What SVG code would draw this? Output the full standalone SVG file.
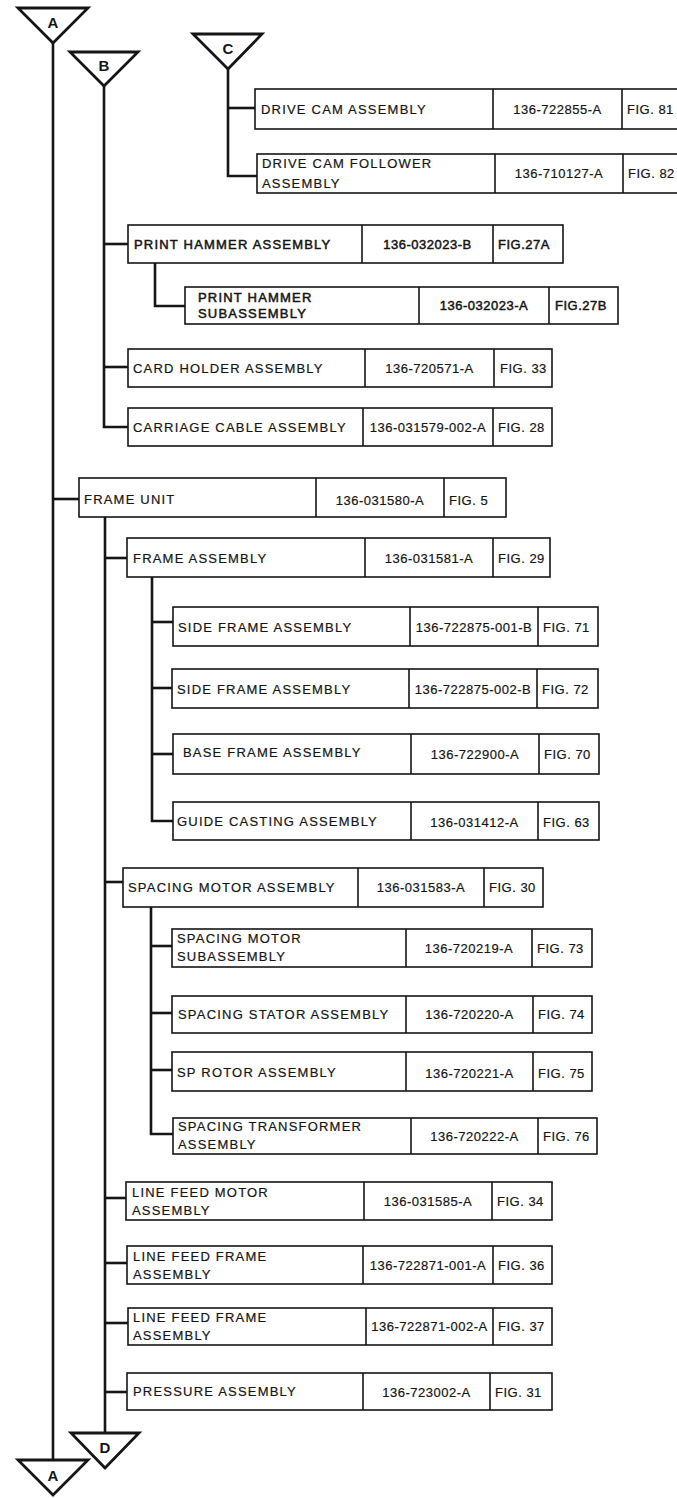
<svg xmlns="http://www.w3.org/2000/svg" width="677" height="1498" viewBox="0 0 677 1498">
<style>
.bg{fill:#fff}
.box{fill:#fff;stroke:#151515;stroke-width:1.6}
.dv{stroke:#151515;stroke-width:1.6}
.conn{fill:none;stroke:#151515;stroke-width:2.6;stroke-linejoin:miter}
.tri{fill:#fff;stroke:#151515;stroke-width:2.8;stroke-linejoin:miter}
text{font-family:"Liberation Sans",Arial,Helvetica,sans-serif;font-size:13px;fill:#151515;stroke:#151515;stroke-width:0.2px}
.lbl{letter-spacing:1.2px}
.bold{stroke-width:0.5px}
.num{text-anchor:middle;letter-spacing:0.5px}
.fig{letter-spacing:0.5px}
.tl{font-size:15px;font-weight:bold;text-anchor:middle;stroke-width:0}
</style>
<rect class="bg" x="0" y="0" width="677" height="1498"/>

<g id="connectors">
  <path class="conn" d="M53 43 V1460"/>
  <path class="conn" d="M53 499 H79"/>
  <path class="conn" d="M104 86 V427 H128"/>
  <path class="conn" d="M104 244 H128"/>
  <path class="conn" d="M104 367 H128"/>
  <path class="conn" d="M155 263 V306 H185"/>
  <path class="conn" d="M228 69 V176 H257"/>
  <path class="conn" d="M228 108 H255"/>
  <path class="conn" d="M105 517 V1433"/>
  <path class="conn" d="M105 558 H127"/>
  <path class="conn" d="M105 882 H123"/>
  <path class="conn" d="M105 1198 H126"/>
  <path class="conn" d="M105 1263 H127"/>
  <path class="conn" d="M105 1323 H128"/>
  <path class="conn" d="M105 1392 H127"/>
  <path class="conn" d="M152 577 V821 H173"/>
  <path class="conn" d="M152 622 H173"/>
  <path class="conn" d="M152 688 H172"/>
  <path class="conn" d="M152 754 H173"/>
  <path class="conn" d="M151 907 V1134 H173"/>
  <path class="conn" d="M151 946 H172"/>
  <path class="conn" d="M151 1013 H172"/>
  <path class="conn" d="M151 1070 H172"/>
</g>

<g id="offpage-A-top"><polygon class="tri" points="18,8 88,8 53,43"/><text class="tl" x="53" y="28">A</text></g>
<g id="offpage-B"><polygon class="tri" points="70,52 138,52 104,86"/><text class="tl" x="104" y="71">B</text></g>
<g id="offpage-C"><polygon class="tri" points="193,34 262,34 228,69"/><text class="tl" x="228" y="54">C</text></g>
<g id="offpage-D"><polygon class="tri" points="71,1433 139,1433 105,1468"/><text class="tl" x="105" y="1453">D</text></g>
<g id="offpage-A-bottom"><polygon class="tri" points="18,1460 88,1460 53,1495"/><text class="tl" x="53" y="1481">A</text></g>

<g id="drive-cam">
  <rect class="box" x="255" y="89" width="427" height="40"/>
  <line class="dv" x1="493" y1="89" x2="493" y2="129"/><line class="dv" x1="622" y1="89" x2="622" y2="129"/>
  <text class="lbl" x="261" y="114">DRIVE CAM ASSEMBLY</text>
  <text class="num" x="557.5" y="114">136-722855-A</text>
  <text class="fig" x="627" y="114">FIG. 81</text>
</g>
<g id="drive-cam-follower">
  <rect class="box" x="257" y="154" width="425" height="39"/>
  <line class="dv" x1="495" y1="154" x2="495" y2="193"/><line class="dv" x1="623" y1="154" x2="623" y2="193"/>
  <text class="lbl" x="262" y="168">DRIVE CAM FOLLOWER</text>
  <text class="lbl" x="262" y="188">ASSEMBLY</text>
  <text class="num" x="559" y="178">136-710127-A</text>
  <text class="fig" x="628" y="178">FIG. 82</text>
</g>

<g id="print-hammer">
  <rect class="box" x="128" y="225" width="435" height="38"/>
  <line class="dv" x1="362" y1="225" x2="362" y2="263"/><line class="dv" x1="493" y1="225" x2="493" y2="263"/>
  <text class="lbl bold" x="134" y="249">PRINT HAMMER ASSEMBLY</text>
  <text class="num bold" x="427.5" y="249">136-032023-B</text>
  <text class="fig bold" x="498" y="249">FIG.27A</text>
</g>
<g id="print-hammer-sub">
  <rect class="box" x="185" y="287" width="433" height="37"/>
  <line class="dv" x1="419" y1="287" x2="419" y2="324"/><line class="dv" x1="549" y1="287" x2="549" y2="324"/>
  <text class="lbl bold" x="198" y="302">PRINT HAMMER</text>
  <text class="lbl bold" x="198" y="318">SUBASSEMBLY</text>
  <text class="num bold" x="484" y="310">136-032023-A</text>
  <text class="fig bold" x="555" y="310">FIG.27B</text>
</g>
<g id="card-holder">
  <rect class="box" x="128" y="349" width="424" height="38"/>
  <line class="dv" x1="365" y1="349" x2="365" y2="387"/><line class="dv" x1="494" y1="349" x2="494" y2="387"/>
  <text class="lbl" x="133" y="373">CARD HOLDER ASSEMBLY</text>
  <text class="num" x="429.5" y="373">136-720571-A</text>
  <text class="fig" x="500" y="373">FIG. 33</text>
</g>
<g id="carriage-cable">
  <rect class="box" x="128" y="408" width="424" height="38"/>
  <line class="dv" x1="363" y1="408" x2="363" y2="446"/><line class="dv" x1="493" y1="408" x2="493" y2="446"/>
  <text class="lbl" x="133" y="432">CARRIAGE CABLE ASSEMBLY</text>
  <text class="num" x="428" y="432">136-031579-002-A</text>
  <text class="fig" x="498" y="432">FIG. 28</text>
</g>

<g id="frame-unit">
  <rect class="box" x="79" y="478" width="427" height="39"/>
  <line class="dv" x1="316" y1="478" x2="316" y2="517"/><line class="dv" x1="444" y1="478" x2="444" y2="517"/>
  <text class="lbl" x="84" y="504">FRAME UNIT</text>
  <text class="num" x="380" y="505">136-031580-A</text>
  <text class="fig" x="449" y="505">FIG. 5</text>
</g>
<g id="frame-assembly">
  <rect class="box" x="127" y="538" width="423" height="39"/>
  <line class="dv" x1="365" y1="538" x2="365" y2="577"/><line class="dv" x1="493" y1="538" x2="493" y2="577"/>
  <text class="lbl" x="133" y="563">FRAME ASSEMBLY</text>
  <text class="num" x="429" y="563">136-031581-A</text>
  <text class="fig" x="498" y="563">FIG. 29</text>
</g>
<g id="side-frame-71">
  <rect class="box" x="173" y="607" width="425" height="39"/>
  <line class="dv" x1="410" y1="607" x2="410" y2="646"/><line class="dv" x1="538" y1="607" x2="538" y2="646"/>
  <text class="lbl" x="178" y="632">SIDE FRAME ASSEMBLY</text>
  <text class="num" x="474" y="632">136-722875-001-B</text>
  <text class="fig" x="543" y="632">FIG. 71</text>
</g>
<g id="side-frame-72">
  <rect class="box" x="172" y="669" width="426" height="39"/>
  <line class="dv" x1="409" y1="669" x2="409" y2="708"/><line class="dv" x1="537" y1="669" x2="537" y2="708"/>
  <text class="lbl" x="177" y="694">SIDE FRAME ASSEMBLY</text>
  <text class="num" x="473" y="694">136-722875-002-B</text>
  <text class="fig" x="542" y="694">FIG. 72</text>
</g>
<g id="base-frame">
  <rect class="box" x="173" y="734" width="426" height="40"/>
  <line class="dv" x1="411" y1="734" x2="411" y2="774"/><line class="dv" x1="539" y1="734" x2="539" y2="774"/>
  <text class="lbl" x="183" y="757">BASE FRAME ASSEMBLY</text>
  <text class="num" x="475" y="759">136-722900-A</text>
  <text class="fig" x="544" y="759">FIG. 70</text>
</g>
<g id="guide-casting">
  <rect class="box" x="173" y="802" width="426" height="38"/>
  <line class="dv" x1="411" y1="802" x2="411" y2="840"/><line class="dv" x1="538" y1="802" x2="538" y2="840"/>
  <text class="lbl" x="177" y="826">GUIDE CASTING ASSEMBLY</text>
  <text class="num" x="474.5" y="827">136-031412-A</text>
  <text class="fig" x="543" y="827">FIG. 63</text>
</g>

<g id="spacing-motor">
  <rect class="box" x="123" y="868" width="420" height="39"/>
  <line class="dv" x1="358" y1="868" x2="358" y2="907"/><line class="dv" x1="484" y1="868" x2="484" y2="907"/>
  <text class="lbl" x="128" y="892">SPACING MOTOR ASSEMBLY</text>
  <text class="num" x="421" y="892">136-031583-A</text>
  <text class="fig" x="489" y="892">FIG. 30</text>
</g>
<g id="spacing-motor-sub">
  <rect class="box" x="172" y="929" width="420" height="38"/>
  <line class="dv" x1="406" y1="929" x2="406" y2="967"/><line class="dv" x1="532" y1="929" x2="532" y2="967"/>
  <text class="lbl" x="177" y="943">SPACING MOTOR</text>
  <text class="lbl" x="177" y="961">SUBASSEMBLY</text>
  <text class="num" x="469" y="953">136-720219-A</text>
  <text class="fig" x="537" y="953">FIG. 73</text>
</g>
<g id="spacing-stator">
  <rect class="box" x="172" y="996" width="420" height="37"/>
  <line class="dv" x1="406" y1="996" x2="406" y2="1033"/><line class="dv" x1="533" y1="996" x2="533" y2="1033"/>
  <text class="lbl" x="178" y="1019">SPACING STATOR ASSEMBLY</text>
  <text class="num" x="469.5" y="1019">136-720220-A</text>
  <text class="fig" x="538" y="1019">FIG. 74</text>
</g>
<g id="sp-rotor">
  <rect class="box" x="172" y="1052" width="420" height="39"/>
  <line class="dv" x1="406" y1="1052" x2="406" y2="1091"/><line class="dv" x1="533" y1="1052" x2="533" y2="1091"/>
  <text class="lbl" x="177" y="1077">SP ROTOR ASSEMBLY</text>
  <text class="num" x="469.5" y="1078">136-720221-A</text>
  <text class="fig" x="538" y="1078">FIG. 75</text>
</g>
<g id="spacing-transformer">
  <rect class="box" x="173" y="1118" width="424" height="36"/>
  <line class="dv" x1="411" y1="1118" x2="411" y2="1154"/><line class="dv" x1="538" y1="1118" x2="538" y2="1154"/>
  <text class="lbl" x="178" y="1131">SPACING TRANSFORMER</text>
  <text class="lbl" x="178" y="1149">ASSEMBLY</text>
  <text class="num" x="474.5" y="1141">136-720222-A</text>
  <text class="fig" x="543" y="1141">FIG. 76</text>
</g>

<g id="line-feed-motor">
  <rect class="box" x="126" y="1182" width="426" height="38"/>
  <line class="dv" x1="364" y1="1182" x2="364" y2="1220"/><line class="dv" x1="492" y1="1182" x2="492" y2="1220"/>
  <text class="lbl" x="132" y="1197">LINE FEED MOTOR</text>
  <text class="lbl" x="132" y="1215">ASSEMBLY</text>
  <text class="num" x="428" y="1206">136-031585-A</text>
  <text class="fig" x="497" y="1206">FIG. 34</text>
</g>
<g id="line-feed-frame-36">
  <rect class="box" x="127" y="1246" width="425" height="38"/>
  <line class="dv" x1="363" y1="1246" x2="363" y2="1284"/><line class="dv" x1="493" y1="1246" x2="493" y2="1284"/>
  <text class="lbl" x="133" y="1261">LINE FEED FRAME</text>
  <text class="lbl" x="133" y="1279">ASSEMBLY</text>
  <text class="num" x="428" y="1270">136-722871-001-A</text>
  <text class="fig" x="498" y="1270">FIG. 36</text>
</g>
<g id="line-feed-frame-37">
  <rect class="box" x="128" y="1308" width="424" height="37"/>
  <line class="dv" x1="366" y1="1308" x2="366" y2="1345"/><line class="dv" x1="493" y1="1308" x2="493" y2="1345"/>
  <text class="lbl" x="133" y="1322">LINE FEED FRAME</text>
  <text class="lbl" x="133" y="1340">ASSEMBLY</text>
  <text class="num" x="429.5" y="1331">136-722871-002-A</text>
  <text class="fig" x="498" y="1331">FIG. 37</text>
</g>
<g id="pressure">
  <rect class="box" x="127" y="1373" width="425" height="37"/>
  <line class="dv" x1="363" y1="1373" x2="363" y2="1410"/><line class="dv" x1="490" y1="1373" x2="490" y2="1410"/>
  <text class="lbl" x="133" y="1396">PRESSURE ASSEMBLY</text>
  <text class="num" x="426.5" y="1397">136-723002-A</text>
  <text class="fig" x="495" y="1397">FIG. 31</text>
</g>
</svg>
